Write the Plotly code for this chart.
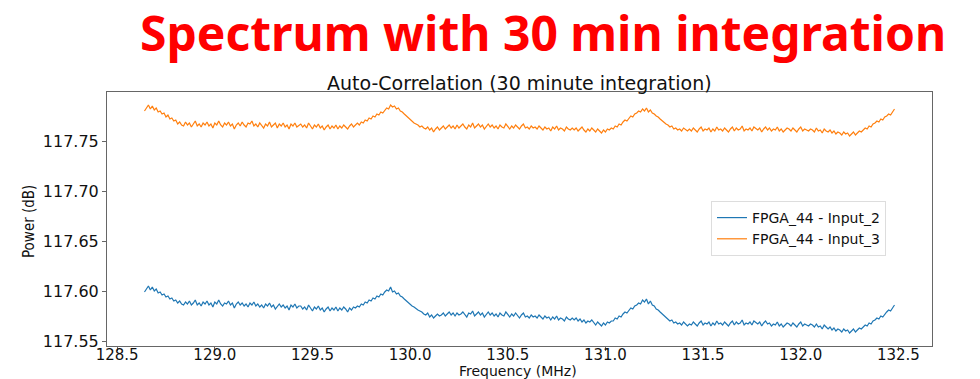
import numpy as np
import plotly.graph_objects as go

# Frequency grid (MHz)
freq_start = 128.64
freq_step = 0.01
n_points = 385
freq = np.round(freq_start + freq_step * np.arange(n_points), 2)

# Power offsets in milli-dB (Input_3 above 117.7 dB)
input3_mdb = [
    80, 83, 86, 82, 85, 81, 83, 79, 80, 77, 78, 74, 76, 72, 73, 70, 71, 67, 69, 66,
    65, 69, 66, 68, 64, 67, 70, 65, 67, 64, 68, 66, 69, 65, 67, 63, 68, 66, 70, 66,
    64, 68, 66, 69, 65, 67, 62, 66, 68, 65, 69, 66, 64, 68, 67, 70, 65, 67, 64, 68,
    66, 63, 67, 65, 69, 64, 66, 68, 63, 67, 65, 68, 64, 66, 62, 67, 65, 68, 64, 66,
    67, 64, 66, 63, 68, 65, 62, 66, 64, 67, 63, 65, 61, 64, 66, 62, 65, 63, 66, 62,
    65, 63, 66, 64, 62, 65, 67, 64, 66, 68, 66, 69, 68, 71, 70, 73, 72, 75, 74, 77,
    76, 79, 78, 81, 83, 82, 86, 84, 85, 82, 83, 80, 79, 77, 75, 74, 72, 70, 68, 67,
    66, 64, 65, 63, 62, 64, 61, 63, 59, 62, 64, 61, 63, 65, 62, 64, 66, 63, 65, 62,
    66, 63, 65, 67, 64, 62, 66, 64, 68, 63, 65, 67, 64, 66, 62, 65, 67, 64, 66, 63,
    65, 62, 66, 64, 63, 67, 64, 62, 65, 63, 66, 64, 62, 65, 67, 63, 64, 62, 65, 63,
    64, 62, 65, 63, 61, 64, 62, 63, 60, 64, 62, 65, 61, 63, 62, 60, 64, 62, 61, 63,
    61, 63, 60, 62, 64, 61, 59, 62, 60, 63, 61, 59, 62, 60, 58, 61, 59, 62, 61, 63,
    62, 65, 64, 67, 66, 69, 71, 70, 73, 75, 74, 77, 78, 80, 79, 82, 80, 83, 79, 81,
    78, 77, 75, 74, 72, 70, 69, 67, 66, 64, 65, 62, 63, 61, 62, 60, 63, 61, 60, 62,
    60, 63, 61, 59, 62, 64, 60, 62, 61, 63, 59, 62, 60, 64, 61, 62, 60, 63, 61, 59,
    62, 64, 60, 63, 61, 62, 65, 60, 62, 61, 63, 60, 64, 62, 61, 63, 59, 62, 64, 61,
    63, 60, 62, 61, 64, 60, 62, 59, 61, 63, 62, 60, 63, 61, 59, 62, 64, 60, 62, 61,
    60, 62, 61, 59, 63, 60, 61, 58, 62, 60, 59, 61, 58, 60, 57, 59, 58, 56, 59, 57,
    58, 55, 57, 59, 56, 58, 60, 59, 61, 63, 62, 65, 64, 67, 68, 70, 69, 72, 71, 74,
    75, 77, 76, 79, 82,
]
# Input_2 above 117.5 dB
input2_mdb = [
    99, 102, 105, 101, 104, 100, 102, 98, 99, 96, 97, 94, 95, 92, 93, 90, 91, 88, 90, 87,
    86, 89, 87, 90, 86, 88, 91, 86, 88, 85, 89, 87, 90, 86, 88, 84, 89, 87, 91, 87,
    85, 88, 87, 90, 86, 88, 83, 87, 89, 86, 88, 85, 87, 84, 88, 86, 89, 85, 87, 84,
    86, 83, 87, 85, 88, 84, 86, 82, 85, 87, 84, 86, 83, 85, 81, 86, 84, 87, 83, 85,
    85, 82, 84, 81, 86, 83, 80, 84, 82, 85, 81, 83, 79, 82, 84, 80, 83, 81, 84, 80,
    83, 81, 84, 82, 79, 83, 81, 84, 83, 85, 84, 87, 86, 89, 88, 91, 90, 93, 92, 95,
    94, 97, 96, 99, 101, 100, 104, 99, 100, 97, 98, 95, 94, 92, 90, 89, 87, 85, 84, 82,
    81, 80, 79, 77, 76, 78, 74, 76, 73, 75, 77, 75, 76, 78, 75, 77, 79, 76, 78, 75,
    78, 76, 77, 79, 76, 74, 78, 77, 80, 75, 77, 79, 76, 78, 74, 77, 79, 76, 78, 75,
    77, 74, 78, 76, 75, 79, 76, 74, 77, 75, 78, 76, 73, 76, 78, 74, 75, 73, 76, 74,
    75, 73, 76, 74, 72, 75, 73, 74, 71, 74, 72, 75, 71, 73, 72, 70, 74, 72, 71, 73,
    71, 73, 70, 72, 69, 71, 68, 70, 69, 71, 68, 66, 69, 67, 65, 68, 66, 69, 68, 70,
    70, 73, 72, 75, 74, 77, 79, 78, 81, 83, 82, 85, 86, 88, 87, 91, 89, 92, 87, 90,
    86, 85, 82, 81, 79, 77, 75, 74, 72, 70, 71, 68, 69, 67, 68, 66, 69, 67, 65, 67,
    66, 69, 67, 65, 68, 70, 66, 68, 67, 69, 65, 68, 66, 70, 67, 68, 66, 69, 67, 65,
    68, 70, 66, 69, 67, 68, 71, 66, 68, 67, 69, 66, 70, 68, 67, 69, 65, 68, 70, 67,
    68, 65, 67, 66, 69, 65, 67, 64, 66, 68, 67, 65, 68, 66, 64, 67, 69, 65, 67, 66,
    65, 67, 66, 64, 67, 64, 65, 62, 66, 64, 62, 64, 61, 63, 60, 62, 61, 59, 62, 60,
    61, 58, 60, 62, 59, 61, 63, 62, 64, 66, 65, 68, 67, 70, 71, 73, 72, 75, 74, 77,
    79, 81, 80, 83, 86,
]
input3_db = [117.7 + v / 1000 for v in input3_mdb]
input2_db = [117.5 + v / 1000 for v in input2_mdb]

series_names = ["FPGA_44 - Input_2", "FPGA_44 - Input_3"]
x_ticks = [128.5, 129.0, 129.5, 130.0, 130.5, 131.0, 131.5, 132.0, 132.5]
y_ticks = [117.55, 117.60, 117.65, 117.70, 117.75]

W, H = 980, 379
L, R, T, B = 107, 48, 92, 33
pw, ph = W - L - R, H - T - B

def px_x(p):
    return (p - L) / pw

def px_y(p):
    return (H - B - p) / ph

fig = go.Figure()
fig.add_trace(go.Scatter(x=freq, y=input2_db, mode="lines", name=series_names[0],
                         line=dict(color="#1f77b4", width=1.2)))
fig.add_trace(go.Scatter(x=freq, y=input3_db, mode="lines", name=series_names[1],
                         line=dict(color="#ff7f0e", width=1.2)))

axis_common = dict(showgrid=False, zeroline=False, showline=True, linecolor="#666",
                   linewidth=1, mirror=True, ticks="outside", ticklen=4, automargin=False,
                   tickcolor="#666")
tick_font = dict(family="DejaVu Sans", size=16, color="#111")

fig.update_layout(
    width=W, height=H,
    margin=dict(l=L, r=R, t=T, b=B, autoexpand=False),
    paper_bgcolor="white", plot_bgcolor="white",
    xaxis=dict(range=[128.448, 132.672], tickvals=x_ticks, ticklabelstandoff=-9,
               ticktext=[f"{v:.1f}" for v in x_ticks],
               tickfont=dict(family="DejaVu Sans", size=15, color="#111"), **axis_common),
    yaxis=dict(range=[117.545, 117.799], tickvals=y_ticks,
               ticktext=[f"{v:.2f}" for v in y_ticks], tickfont=tick_font, **axis_common),
    legend=dict(x=px_x(711), y=px_y(201), xanchor="left", yanchor="top",
                bgcolor="white", bordercolor="#ddd", borderwidth=1,
                font=dict(family="DejaVu Sans", size=14, color="#111"),
                tracegroupgap=0),
    showlegend=True,
    annotations=[
        dict(text="<b>Spectrum with 30 min integration</b>", x=px_x(543), y=px_y(33),
             xref="paper", yref="paper", showarrow=False, xanchor="center", yanchor="middle",
             font=dict(family="Noto Sans", size=48, color="#ff0000")),
        dict(text="Auto-Correlation (30 minute integration)", x=0.5, y=px_y(83),
             xref="paper", yref="paper", showarrow=False, xanchor="center", yanchor="middle",
             font=dict(family="DejaVu Sans", size=19, color="#111")),
        dict(text="Frequency (MHz)", x=px_x(518), y=px_y(371),
             xref="paper", yref="paper", showarrow=False, xanchor="center", yanchor="middle",
             font=dict(family="DejaVu Sans", size=14, color="#111")),
        dict(text="Power (dB)", x=px_x(29), y=px_y(222), textangle=-90,
             xref="paper", yref="paper", showarrow=False, xanchor="center", yanchor="middle",
             font=dict(family="Liberation Sans Narrow, DejaVu Sans Condensed, DejaVu Sans", size=15, color="#111")),
    ],
)

fig.write_html("out.html")
